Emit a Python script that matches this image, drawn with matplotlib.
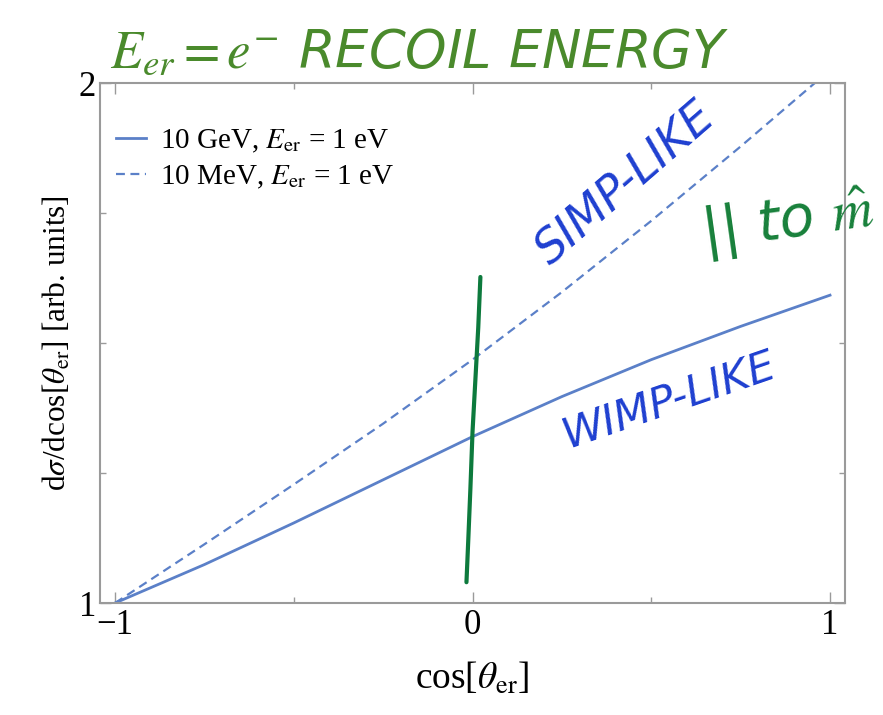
import matplotlib.pyplot as plt
import numpy as np

# curve values
cos_theta = [-1.0, -0.75, -0.5, -0.25, 0.0, 0.25, 0.5, 0.75, 1.0]
gev_10 = [1.0, 1.074, 1.154, 1.237, 1.32, 1.397, 1.468, 1.532, 1.592]
mev_10 = [1.0, 1.113, 1.228, 1.345, 1.468, 1.598, 1.735, 1.878, 2.025]

x_ticks = [-1, 0, 1]
x_minor = [-0.5, 0.5]
y_ticks = [1, 2]
y_minor = [1.25, 1.5, 1.75]

# hand-drawn marker stroke (data coords)
stroke_x = [-0.017, -0.012, -0.006, 0.0, 0.008, 0.016, 0.022]
stroke_y = [1.04, 1.12, 1.22, 1.33, 1.43, 1.53, 1.627]

plt.rcParams['font.family'] = ['Liberation Serif', 'DejaVu Serif']
plt.rcParams['mathtext.fontset'] = 'stix'

line_col = '#5b80c8'
frame_col = '#9a9a9a'
ink_blue = '#1e3fd0'
ink_green = '#4a8a2c'
ink_green2 = '#17803a'

fig = plt.figure(figsize=(8.83, 7.15), dpi=100)
ax = fig.add_axes([0.1133, 0.1566, 0.8437, 0.7273])

xs = np.array(cos_theta)
ax.plot(xs, gev_10, color=line_col, lw=2, label=r'10 GeV, $E_{\mathrm{er}}$ = 1 eV')
ax.plot(xs, mev_10, color=line_col, lw=1.6, ls=(0, (4, 2.5)),
        label=r'10 MeV, $E_{\mathrm{er}}$ = 1 eV')

ax.set_xlim(-1.042, 1.042)
ax.set_ylim(1.0, 2.0)
ax.set_xticks(x_ticks)
ax.set_xticklabels(['\u22121', '0', '1'])
ax.set_xticks(x_minor, minor=True)
ax.set_yticks(y_ticks)
ax.set_yticks(y_minor, minor=True)
ax.tick_params(which='both', direction='in', top=True, right=True,
               color=frame_col, labelsize=25)
ax.tick_params(which='major', length=8, width=1)
ax.tick_params(which='minor', length=4, width=1)
ax.tick_params(axis='x', pad=4)
ax.tick_params(axis='y', pad=3)
for s in ax.spines.values():
    s.set_color(frame_col)
    s.set_linewidth(1.5)

ax.set_xlabel(r'cos[$\theta_{\mathrm{er}}$]', fontsize=27, labelpad=14)
ax.set_ylabel(r'd$\sigma$/dcos[$\theta_{\mathrm{er}}$] [arb. units]', fontsize=22.5, labelpad=4)

ax.legend(loc='upper left', bbox_to_anchor=(0.022, 0.914), frameon=False,
          fontsize=21, handlelength=1.0, handletextpad=0.5, labelspacing=0.3,
          borderpad=0, borderaxespad=0)

# hand-written annotations
ax.plot(stroke_x, stroke_y, color='#0d7a3d', lw=3, solid_capstyle='round')
ax.text(0.43, 1.805, 'SIMP-LIKE', color=ink_blue, fontsize=33, rotation=41,
        family='DejaVu Sans', style='italic', ha='center', va='center',
        rotation_mode='anchor')
ax.text(0.55, 1.39, 'WIMP-LIKE', color=ink_blue, fontsize=31, rotation=19,
        family='DejaVu Sans', style='italic', ha='center', va='center',
        rotation_mode='anchor')
fig.text(0.797, 0.652, r'|| to $\hat{m}$', color=ink_green2, fontsize=41,
         family='DejaVu Sans', style='italic', rotation=8, rotation_mode='anchor')
fig.text(0.125, 0.905, r'$E_{er} = e^{-}$ RECOIL ENERGY', color=ink_green,
         fontsize=38, family='DejaVu Sans', style='italic')

fig.savefig('out.png', dpi=100)
